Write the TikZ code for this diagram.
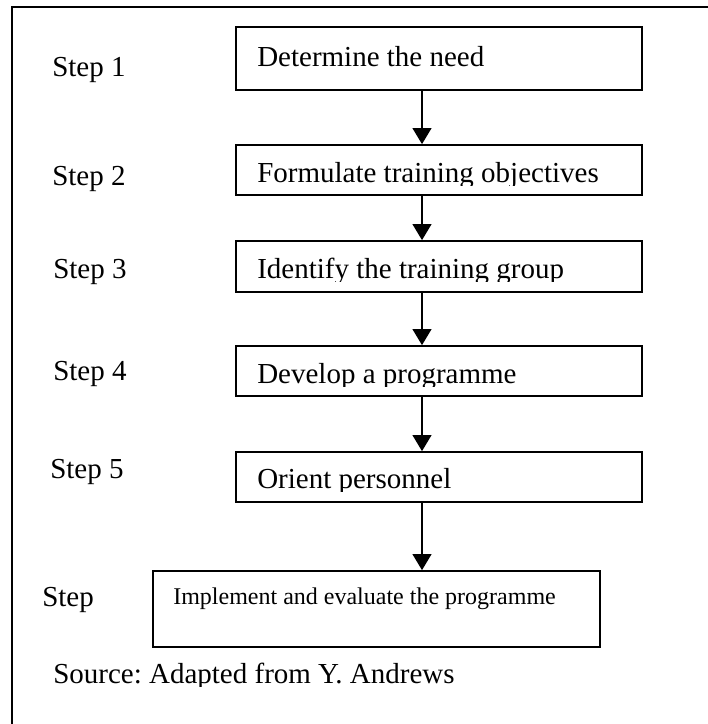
\documentclass[tikz,border=0pt]{standalone}
\usepackage{fontspec}
\setmainfont{Liberation Serif}
\usetikzlibrary{arrows.meta}
\frenchspacing

\tikzset{
  stepbox/.style={draw, line width=1.3pt, inner sep=0pt},
  txt/.style={anchor=base west, inner sep=0pt, font=\fontsize{21.75}{26}\selectfont},
  smalltxt/.style={anchor=base west, inner sep=0pt, font=\fontsize{18}{22}\selectfont},
  flow/.style={line width=1.5pt, -{Triangle[length=12pt, width=14pt]}},
}

\begin{document}
\begin{tikzpicture}[x=0.75pt, y=-0.75pt]
  \useasboundingbox (0,0) rectangle (707,724);

  % open frame (top and left edges)
  \draw[line width=1.3pt] (712,7) -- (12,7) -- (12,730);

  % process boxes
  \node[stepbox, minimum width=304.5pt, minimum height=47.25pt] (b1) at (439,58.5) {};
  \node[stepbox, minimum width=304.5pt, minimum height=37.5pt]  (b2) at (439,170)  {};
  \node[stepbox, minimum width=304.5pt, minimum height=38.25pt] (b3) at (439,266.5) {};
  \node[stepbox, minimum width=304.5pt, minimum height=37.5pt]  (b4) at (439,371)  {};
  \node[stepbox, minimum width=304.5pt, minimum height=37.5pt]  (b5) at (439,477)  {};
  \node[stepbox, minimum width=335.25pt, minimum height=57pt]   (b6) at (376.5,609) {};

  % box texts (descenders cut off just below the baseline)
  \node[txt] (t1) at (257,66) {Determine the need};
  \begin{scope}
    \clip (236,145) rectangle (642,185);
    \node[txt] (t2) at (257,182) {Formulate training objectives};
  \end{scope}
  \begin{scope}
    \clip (236,241) rectangle (642,281);
    \node[txt] (t3) at (257,278) {Identify the training group};
  \end{scope}
  \begin{scope}
    \clip (236,346) rectangle (642,386);
    \node[txt] (t4) at (257,383) {Develop a programme};
  \end{scope}
  \begin{scope}
    \clip (236,452) rectangle (642,491);
    \node[txt] (t5) at (257,488) {Orient personnel};
  \end{scope}
  \node[smalltxt] (t6) at (173,604) {Implement and evaluate the programme};

  % step labels
  \node[txt] (s1) at (52,76)  {Step 1};
  \node[txt] (s2) at (52,185) {Step 2};
  \node[txt] (s3) at (53,278) {Step 3};
  \node[txt] (s4) at (53,380) {Step 4};
  \node[txt] (s5) at (50,478) {Step 5};
  \node[txt] (s6) at (42,606) {Step};

  % source line
  \begin{scope}
    \clip (40,650) rectangle (520,686);
    \node[txt] (src) at (53,683) {Source: Adapted from Y. Andrews};
  \end{scope}

  % connectors
  \coordinate (ax) at (422,0);
  \draw[flow] (b1.south -| ax) -- (b2.north -| ax);
  \draw[flow] (b2.south -| ax) -- (b3.north -| ax);
  \draw[flow] (b3.south -| ax) -- (b4.north -| ax);
  \draw[flow] (b4.south -| ax) -- (b5.north -| ax);
  \draw[flow] (b5.south -| ax) -- (b6.north -| ax);
\end{tikzpicture}
\end{document}
